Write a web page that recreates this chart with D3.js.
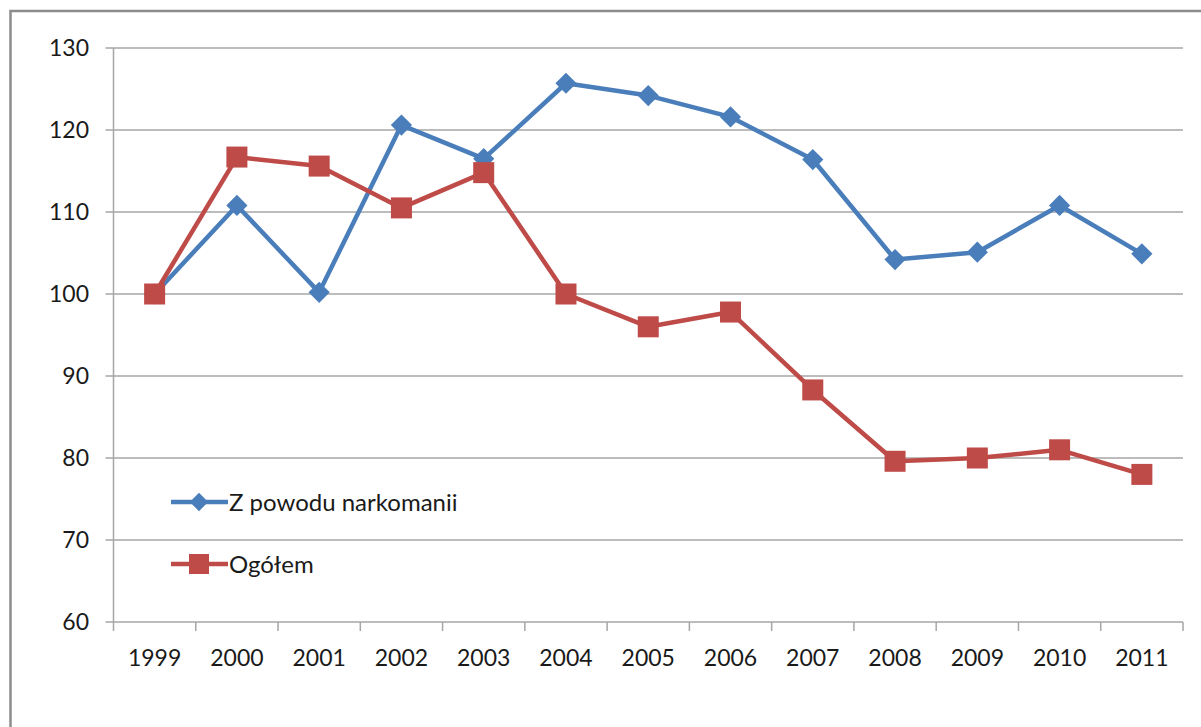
<!DOCTYPE html>
<html><head><meta charset="utf-8">
<script src="https://cdn.jsdelivr.net/npm/d3@7"></script>
<style>body{margin:0;background:#fff}svg{display:block}</style>
</head><body>
<script>
const years = ["1999","2000","2001","2002","2003","2004","2005","2006","2007","2008","2009","2010","2011"];
const narkomania = [100,110.8,100.2,120.6,116.5,125.7,124.2,121.6,116.4,104.2,105.1,110.8,104.9];
const ogolem = [100,116.7,115.6,110.5,114.8,100,96,97.8,88.3,79.6,80,81,78];
const yTicks = [60,70,80,90,100,110,120,130];
const seriesNames = ["Z powodu narkomanii","Ogółem"];

(function(){
const W = 1201, H = 727;
const svg = d3.select("body").append("svg").attr("width",W).attr("height",H);
svg.append("rect").attr("x",10.5).attr("y",11).attr("width",1250).attr("height",800)
  .attr("fill","none").attr("stroke","#8c8c8c").attr("stroke-width",2.5);

const pl=113.5, pr=1183, pt=48, pb=622;
const x = d3.scaleBand().domain(years).range([pl,pr]);
const y = d3.scaleLinear().domain([60,130]).range([pb,pt]);
const font = "Lato";
const fs = 23;
const tc = "#1a1a1a";

svg.append("g").selectAll("line").data(yTicks).join("line")
  .attr("x1",pl-8).attr("x2",pr).attr("y1",d=>y(d)).attr("y2",d=>y(d))
  .attr("stroke","#a6a6a6").attr("stroke-width",1.5);
svg.append("line").attr("x1",pl).attr("x2",pl).attr("y1",pt).attr("y2",pb)
  .attr("stroke","#a6a6a6").attr("stroke-width",1.5);
svg.append("g").selectAll("text").data(yTicks).join("text")
  .attr("x",89).attr("y",d=>y(d)).attr("dy","0.36em").attr("text-anchor","end")
  .attr("font-family",font).attr("font-size",fs).attr("fill",tc).text(d=>d);
const xt = years.map(d=>x(d)).concat([pr]);
svg.append("g").selectAll("line").data(xt).join("line")
  .attr("x1",d=>d).attr("x2",d=>d).attr("y1",pb).attr("y2",pb+9)
  .attr("stroke","#a6a6a6").attr("stroke-width",1.5);
svg.append("g").selectAll("text").data(years).join("text")
  .attr("x",d=>x(d)+x.bandwidth()/2).attr("y",658).attr("dy","0.36em").attr("text-anchor","middle")
  .attr("font-family",font).attr("font-size",fs).attr("fill",tc).text(d=>d);

const cx = (d,i)=>x(years[i])+x.bandwidth()/2;
const line = d3.line().x(cx).y(d=>y(d));
const blue="#4a7ebb", red="#be4b48";

svg.append("path").datum(narkomania).attr("d",line).attr("fill","none").attr("stroke",blue).attr("stroke-width",4.5).attr("stroke-linejoin","round");
svg.append("g").selectAll("rect").data(narkomania).join("rect")
  .attr("x",-7.5).attr("y",-7.5).attr("width",15).attr("height",15)
  .attr("transform",(d,i)=>`translate(${cx(d,i)},${y(d)}) rotate(45)`)
  .attr("fill",blue);
svg.append("path").datum(ogolem).attr("d",line).attr("fill","none").attr("stroke",red).attr("stroke-width",4.5).attr("stroke-linejoin","round");
svg.append("g").selectAll("rect").data(ogolem).join("rect")
  .attr("x",(d,i)=>cx(d,i)-10.5).attr("y",d=>y(d)-10.5).attr("width",21).attr("height",21)
  .attr("fill",red);

const leg = [{name:seriesNames[0],color:blue,y:502,shape:"diamond"},{name:seriesNames[1],color:red,y:564,shape:"square"}];
const lg = svg.append("g");
leg.forEach(l=>{
  lg.append("line").attr("x1",171).attr("x2",228).attr("y1",l.y).attr("y2",l.y).attr("stroke",l.color).attr("stroke-width",4.5);
  if(l.shape==="diamond"){
    lg.append("rect").attr("x",-6.5).attr("y",-6.5).attr("width",13).attr("height",13).attr("fill",l.color)
      .attr("transform",`translate(199,${l.y}) rotate(45)`);
  } else {
    lg.append("rect").attr("x",189).attr("y",l.y-10).attr("width",20).attr("height",20).attr("fill",l.color);
  }
  lg.append("text").attr("x",229).attr("y",l.y).attr("dy","0.36em").attr("font-family",font).attr("font-size",24).attr("fill",tc).text(l.name);
});
})();
</script>
</body></html>
